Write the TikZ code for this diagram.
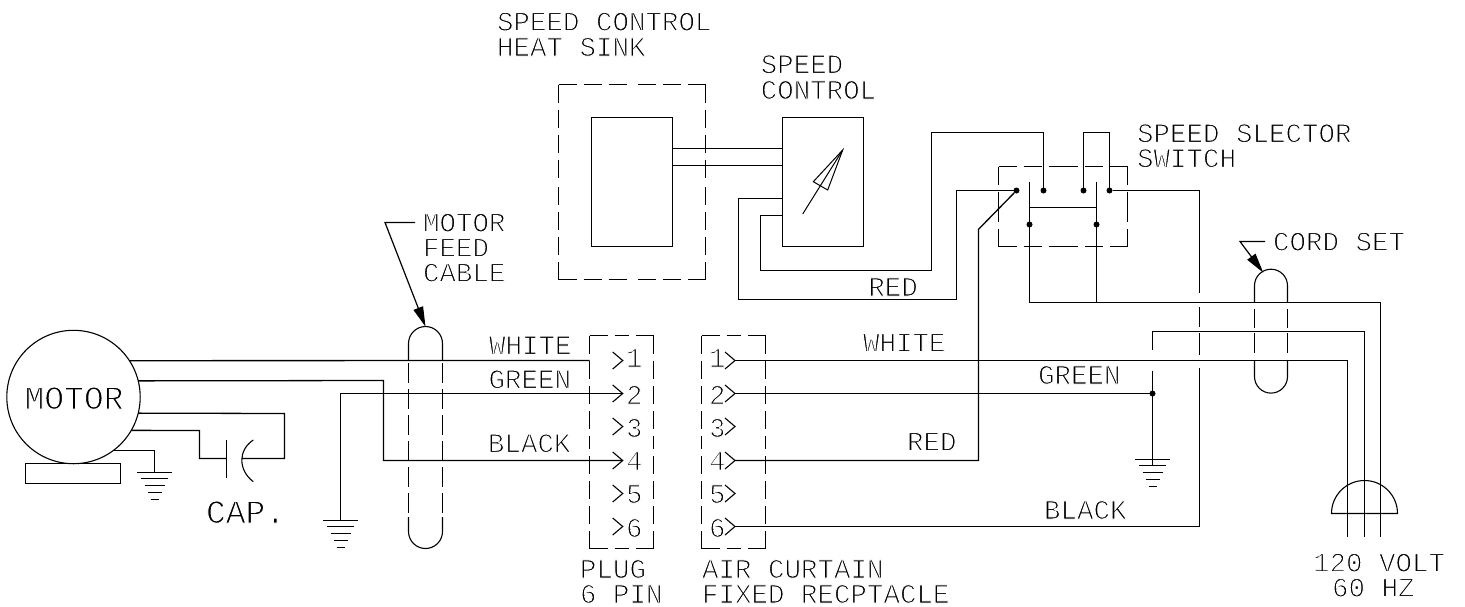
\documentclass[tikz,border=0pt]{standalone}
\usepackage{fontspec}
\usetikzlibrary{arrows.meta}
\newfontfamily\cadfont{Liberation Mono}
\tikzset{
  wire/.style={line width=1.3pt,line join=miter},
  thin wire/.style={line width=1.1pt},
  lean/.style={execute at begin node={\special{pdf: code 2 Tr 1 1 1 RG 1 w}},execute at end node={\special{pdf: code 0 Tr 0 0 0 RG}}},
  lbl/.style={lean,anchor=base west,inner sep=0pt,outer sep=0pt,font=\cadfont\fontsize{27.5}{27.5}\selectfont},
  biglbl/.style={lean,anchor=base west,inner sep=0pt,outer sep=0pt,font=\cadfont\fontsize{33}{33}\selectfont},
  box/.style={rectangle,draw,line width=1.1pt,inner sep=0pt,outer sep=0pt},
  ghost/.style={rectangle,inner sep=0pt,outer sep=0pt},
  dots/.style={line width=1.1pt,dash pattern=on 18pt off 7pt},
  cabledash/.style={line width=1.1pt,dash pattern=on 20pt off 6pt},
  dot/.style={circle,fill=black,inner sep=0pt,outer sep=0pt,minimum size=6pt},
  leader/.style={line width=1.2pt,-{Triangle[length=20pt,width=10pt]}}
}
\newcommand{\cadbox}[5]{% name, cx, cy, w, h
  \node[ghost,minimum width=#4pt,minimum height=#5pt] (#1) at (#2,#3) {};
  \draw[dots] (#1.north west) -- (#1.north);
  \draw[dots] (#1.north east) -- (#1.north);
  \draw[dots] (#1.south west) -- (#1.south);
  \draw[dots] (#1.south east) -- (#1.south);
  \draw[dots] (#1.north west) -- (#1.west);
  \draw[dots] (#1.south west) -- (#1.west);
  \draw[dots] (#1.north east) -- (#1.east);
  \draw[dots] (#1.south east) -- (#1.east);
}
\newcommand{\earth}[1]{% coordinate name of the top line centre
  \draw[thin wire] ([xshift=-17.5pt]#1) -- ([xshift=17.5pt]#1);
  \draw[thin wire] ([xshift=-13.5pt,yshift=-6pt]#1) -- ([xshift=13.5pt,yshift=-6pt]#1);
  \draw[thin wire] ([xshift=-10pt,yshift=-13pt]#1) -- ([xshift=10pt,yshift=-13pt]#1);
  \draw[thin wire] ([xshift=-7pt,yshift=-20pt]#1) -- ([xshift=7pt,yshift=-20pt]#1);
  \draw[thin wire] ([xshift=-4pt,yshift=-27pt]#1) -- ([xshift=4pt,yshift=-27pt]#1);
}
\begin{document}
\begin{tikzpicture}[x=1pt,y=-1pt]
\fill[white] (0,0) rectangle (1465,606);
\useasboundingbox (0,0) rectangle (1465,606);

% ---------- motor
\node[circle,draw,line width=1.1pt,inner sep=0pt,outer sep=0pt,minimum size=133.4pt] (motor) at (73.5,397) {};
\node[box,minimum width=95pt,minimum height=20pt] (base) at (73,473.5) {};
\node[biglbl] (motorlbl) at (24.5,409) {MOTOR};
\node[biglbl] (caplbl) at (206,523) {CAP.};

% capacitor
\coordinate (capA) at (226.5,458.5);
\coordinate (capB) at (241.5,458.5);
\draw[thin wire] (226.5,440) -- (226.5,477.7);
\draw[thin wire] (253.3,440) .. controls (238,450) and (238,470) .. (253.3,481.7);
\draw[wire] (motor.-14.32) -- (284.5,413.5) -- (284.5,458.5) -- (capB);
\draw[wire] (motor.-30.15) -- (199.5,430.5) -- (199.5,458.5) -- (capA);

% motor ground
\coordinate (gnd1) at (154.5,472.5);
\draw[wire] (motor.-53.32) -| (gnd1);
\earth{gnd1}

% ---------- motor feed cable
\coordinate (mcTop) at (425.5,326.7);
\draw[thin wire] (408.5,360.5) -- (408.5,343.5) arc[start angle=180,end angle=360,radius=17] -- (442.5,360.5);
\draw[thin wire] (408.5,517) -- (408.5,531.5) arc[start angle=180,end angle=0,radius=17] -- (442.5,517);
\draw[cabledash] (408.5,363) -- (408.5,513);
\draw[cabledash] (442.5,363) -- (442.5,513);
\coordinate (mlA) at (415,222.5);
\coordinate (mlB) at (385,222.5);
\draw[leader] (mlA) -- (mlB) -- (mcTop);
\node[lbl] (mfa) at (423,231.7) {MOTOR};
\node[lbl] (mfb) at (423,256.7) {FEED};
\node[lbl] (mfc) at (423,281.7) {CABLE};

% ---------- plug
\cadbox{plug}{621.5}{442}{64}{213}
\foreach \n/\yy/\by in {1/360.5/367,2/393.5/404,3/426.5/437,4/460.5/470,5/493.5/503,6/526.5/537}{
  \coordinate (p\n) at (622.7,\yy);
  \draw[thin wire] (612.7,\yy-8.5) -- (p\n) -- (612.7,\yy+8.5);
  \node[lbl] (pn\n) at (626,\by) {\n};
  \coordinate (r\n) at (735,\yy);
  \draw[thin wire] (725,\yy-8.5) -- (r\n) -- (725,\yy+8.5);
  \node[lbl] (rn\n) at (709,\by) {\n};
}
\node[lbl] (plugA) at (580,578) {PLUG};
\node[lbl] (plugB) at (580,603) {6 PIN};

% ---------- receptacle
\cadbox{rec}{733.5}{442}{64}{213}
\node[lbl] (recA) at (702,578) {AIR CURTAIN};
\node[lbl] (recB) at (702,603) {FIXED RECPTACLE};

% ---------- left wires
\coordinate (plugw) at (589.5,360.5);
\draw[wire] (motor.33.18) -- (plugw);
\draw[wire] (motor.14.32) -- (383.5,380.5) -- (383.5,460.5) -- (p4);
\coordinate (gnd2) at (340.5,520.5);
\draw[wire] (gnd2) -- (340.5,393.5) -- (p2);
\earth{gnd2}
\node[lbl] (lw) at (489,354.3) {WHITE};
\node[lbl] (lg) at (488.5,388.3) {GREEN};
\node[lbl] (lb) at (488,452.3) {BLACK};

% ---------- speed control heat sink
\cadbox{sink}{632}{182}{147}{195}
\node[box,minimum width=81pt,minimum height=129pt] (hs) at (632,182) {};
\node[box,minimum width=81pt,minimum height=129pt] (sc) at (823,182) {};
\draw[thin wire] (hs.east |- 0,148.5) -- (sc.west |- 0,148.5);
\draw[thin wire] (hs.east |- 0,165.5) -- (sc.west |- 0,165.5);
\node[lbl] (a1) at (497,30.7) {SPEED CONTROL};
\node[lbl] (a2) at (497,56) {HEAT SINK};
\node[lbl] (a3) at (760.7,73.3) {SPEED};
\node[lbl] (a4) at (760.7,99) {CONTROL};
% variable arrow
\coordinate (vTip) at (842.7,150);
\coordinate (vTail) at (802.7,214);
\draw[line width=1pt] (vTail) -- (vTip);
\draw[line width=1pt,line join=miter] (vTip) -- (813.3,181.7) -- (827.7,190) -- cycle;

% ---------- switch
\cadbox{sw}{1063}{206.5}{129}{80}
\node[dot] (d1) at (1016.5,190.5) {};
\node[dot] (d2) at (1043.5,190.5) {};
\node[dot] (d3) at (1083.5,190.5) {};
\node[dot] (d4) at (1109.5,190.5) {};
\node[dot] (d5) at (1029.5,224.5) {};
\node[dot] (d6) at (1096.5,224.5) {};
\coordinate (bA) at (1029.5,181.5);
\coordinate (bB) at (1096.5,181.5);
\coordinate (bC) at (1029.5,302.5);
\coordinate (bD) at (1096.5,302.5);
\draw[thin wire] (bA) -- (bC);
\draw[thin wire] (bB) -- (bD);
\draw[thin wire] (1029.5,207.5) -- (1096.5,207.5);
\draw[thin wire] (d3) -- (1083.5,132.5) -- (1109.5,132.5) -- (d4);
\draw[thin wire] (sc.west |- 0,198.5) -- (738.5,198.5) -- (738.5,299.5) -- (956.5,299.5) -- (956.5,190.5) -- (d1);
\draw[thin wire] (sc.west |- 0,215.5) -- (760.5,215.5) -- (760.5,270.5) -- (931.5,270.5) -- (931.5,132.5) -- (1043.5,132.5) -- (d2);
\node[lbl] (a5) at (868.3,296) {RED};
\node[lbl] (a6) at (1137,142.3) {SPEED SLECTOR};
\node[lbl] (a7) at (1137,167.3) {SWITCH};

% ---------- right wires
\coordinate (g3) at (1152.5,459.5);
\node[dot] (gd) at (1152.5,393.5) {};
\coordinate (endW) at (1347.5,536.7);
\coordinate (endG) at (1364.5,536.7);
\coordinate (endB) at (1380.5,536.7);
\draw[wire] (r1) -- (1347.5,360.5) -- (endW);
\draw[thin wire] (1152.5,350) -- (1152.5,331.5) -- (1364.5,331.5) -- (endG);
\draw[wire] (bC) -- (1380.5,302.5) -- (endB);
\draw[wire] (r2) -- (gd);
\draw[thin wire] (1152.5,370.7) -- (1152.5,466);
\earth{g3}
\draw[wire] (r4) -- (978.5,460.5) -- (978.5,229.3) -- (d1);
\draw[wire] (r6) -- (1199.5,526.5) -- (1199.5,368.3);
\draw[thin wire] (1199.5,355) -- (1199.5,333.3);
\draw[thin wire] (1199.5,326.7) -- (1199.5,307.3);
\draw[thin wire] (1199.5,292.7) -- (1199.5,190.5) -- (d4);
\node[lbl] (b1) at (863,351.7) {WHITE};
\node[lbl] (b2) at (1038,384) {GREEN};
\node[lbl] (b3) at (907,450.7) {RED};
\node[lbl] (b4) at (1044,519) {BLACK};

% ---------- cord set
\draw[thin wire] (1254.5,302.5) -- (1254.5,285.7) arc[start angle=180,end angle=360,radius=16.5] -- (1287.5,302.5);
\draw[thin wire] (1254.5,360.5) -- (1254.5,376.6) arc[start angle=180,end angle=0,radius=16.5] -- (1287.5,360.5);
\draw[thin wire] (1254.5,309.3) -- (1254.5,328.3) (1254.5,333.3) -- (1254.5,352.7);
\draw[thin wire] (1287.5,309.3) -- (1287.5,328.3) (1287.5,333.3) -- (1287.5,352.7);
\coordinate (clA) at (1265,241.5);
\coordinate (clB) at (1240,241.5);
\coordinate (clT) at (1263.3,272.7);
\draw[leader] (clA) -- (clB) -- (clT);
\node[lbl] (c1) at (1273,250.7) {CORD SET};

% ---------- mains plug
\draw[thin wire] (1331.5,513.5) arc[start angle=180,end angle=360,radius=33] -- cycle;
\node[lbl] (c2) at (1313,571.7) {120 VOLT};
\node[lbl] (c3) at (1332,596.7) {60 HZ};
\end{tikzpicture}
\end{document}
